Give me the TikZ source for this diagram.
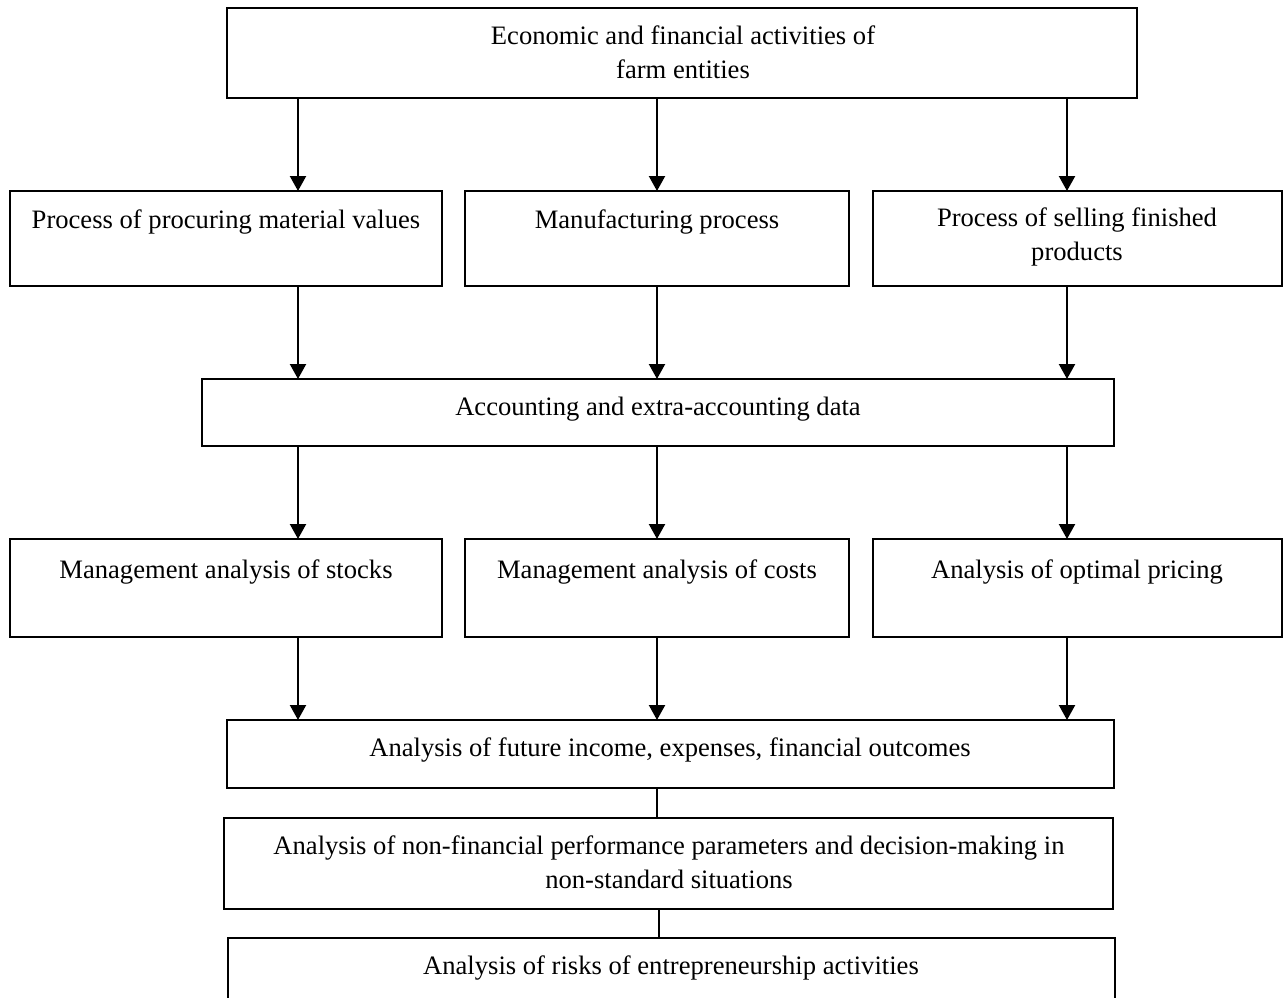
\documentclass[tikz,border=0pt]{standalone}
\usepackage{fontspec}
\setmainfont{Liberation Serif}
\usetikzlibrary{arrows.meta}
\begin{document}
\begin{tikzpicture}[x=1pt,y=-1pt,
  box/.style={draw=black, line width=1.8pt, fill=none},
  txt/.style={font=\fontsize{26.6}{34}\selectfont, align=center, inner sep=0pt},
  arr/.style={line width=2.2pt, -{Triangle[length=15pt,width=16pt]}},
  conn/.style={line width=1.6pt}]
\useasboundingbox (0,0) rectangle (1286,998);
\fill[white] (0,0) rectangle (1286,998);
% boxes
\draw[box] (227,8) rectangle (1137,98);
\draw[box] (10,191) rectangle (442,286);
\draw[box] (465,191) rectangle (849,286);
\draw[box] (873,191) rectangle (1282,286);
\draw[box] (202,379) rectangle (1114,446);
\draw[box] (10,539) rectangle (442,637);
\draw[box] (465,539) rectangle (849,637);
\draw[box] (873,539) rectangle (1282,637);
\draw[box] (227,720) rectangle (1114,788);
\draw[box] (224,818) rectangle (1113,909);
\draw[box] (228,938) rectangle (1115,1010);
% texts
\node[txt] (tT) at (683,52) {Economic and financial activities of\\farm entities};
\node[txt] (t1) at (226,222) {Process of procuring material values};
\node[txt] (t2) at (657,222) {Manufacturing process};
\node[txt] (t3) at (1077,237) {Process of selling finished\\products};
\node[txt] (tA) at (658,409) {Accounting and extra-accounting data};
\node[txt] (t4) at (226,572) {Management analysis of stocks};
\node[txt] (t5) at (657,572) {Management analysis of costs};
\node[txt] (t6) at (1077,572) {Analysis of optimal pricing};
\node[txt] (tF) at (670,750) {Analysis of future income, expenses, financial outcomes};
\node[txt] (tN) at (669,862) {Analysis of non-financial performance parameters and decision-making in\\non-standard situations};
\node[txt] (tR) at (671,968) {Analysis of risks of entrepreneurship activities};
% connector coordinates
\foreach \x/\n in {298/a,657/b,1067/c}{
  \coordinate (r1\n) at (\x,98);
  \coordinate (r2\n) at (\x,191);
  \coordinate (r3\n) at (\x,286);
  \coordinate (r4\n) at (\x,379);
  \coordinate (r5\n) at (\x,446);
  \coordinate (r6\n) at (\x,539);
  \coordinate (r7\n) at (\x,637);
  \coordinate (r8\n) at (\x,720);
}
\foreach \n in {a,b,c}{
  \draw[arr] (r1\n) -- (r2\n);
  \draw[arr] (r3\n) -- (r4\n);
  \draw[arr] (r5\n) -- (r6\n);
  \draw[arr] (r7\n) -- (r8\n);
}
\coordinate (c1) at (657,788);
\coordinate (c2) at (657,818);
\coordinate (c3) at (659,909);
\coordinate (c4) at (659,938);
\draw[conn] (c1) -- (c2);
\draw[conn] (c3) -- (c4);
\end{tikzpicture}
\end{document}
